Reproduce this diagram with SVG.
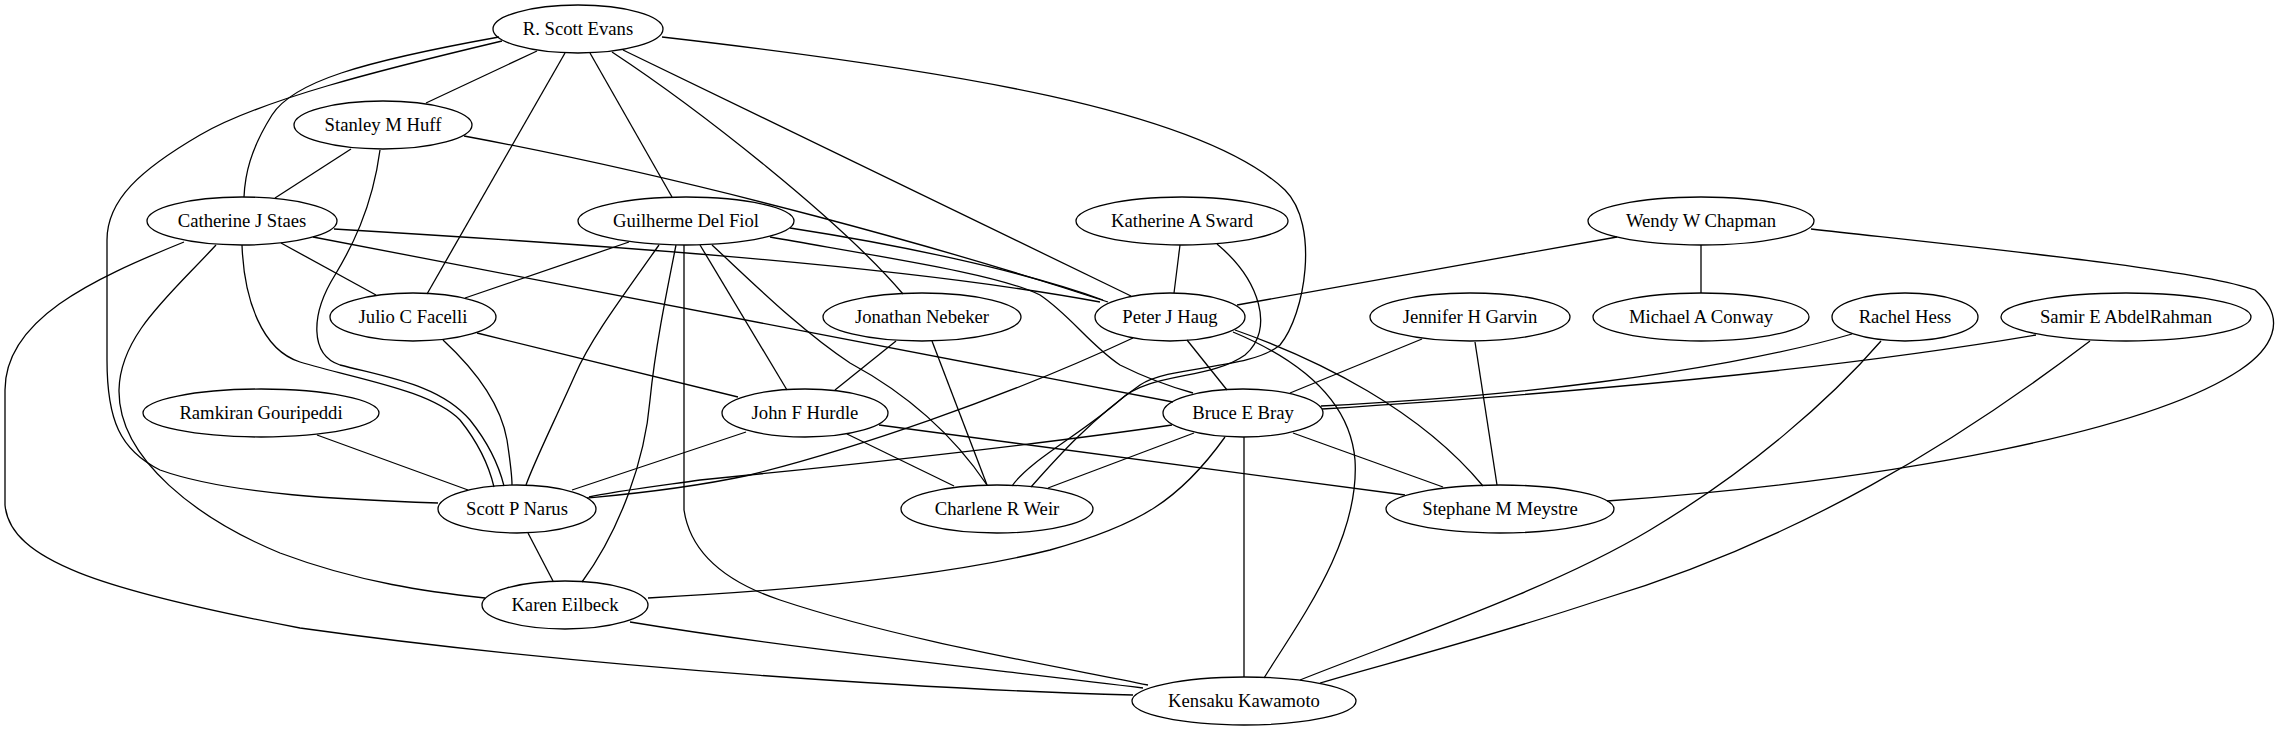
<svg xmlns="http://www.w3.org/2000/svg" width="2280" height="731" viewBox="0 0 2280 731">
<style>
.n ellipse{fill:none;stroke:#000;stroke-width:1.3}
.n text{font-family:"Liberation Serif","Times New Roman",serif;font-size:18.67px;text-anchor:middle;fill:#000}
#edges path{fill:none;stroke:#000;stroke-width:1.3}
</style>
<rect width="2280" height="731" fill="#fff"/>
<g id="edges">
<path d="M537,51 L426,103"/>
<path d="M499,37 C360,62 293,82 272,115 C250,150 245,175 244,197"/>
<path d="M502,41 C380,70 260,100 200,135 C140,170 107,200 107,240 L107,360 C107,420 120,450 160,470 C230,495 350,500 438,503"/>
<path d="M565,53 L427,294"/>
<path d="M590,53 L672,197"/>
<path d="M612,52 C700,110 840,220 903,294"/>
<path d="M623,50 L1131,296"/>
<path d="M662,37 C950,70 1200,110 1285,190 C1320,225 1305,315 1280,345 C1250,370 1170,365 1140,385 C1090,420 1055,460 1031,487"/>
<path d="M1217,244 C1260,280 1275,330 1245,355 C1210,380 1150,372 1120,400 C1080,435 1030,460 1012,486"/>
<path d="M351,149 L275,198"/>
<path d="M464,136 C700,180 950,250 1108,302"/>
<path d="M380,150 C372,210 350,250 335,275 C310,315 310,355 340,365 C390,378 440,385 470,420 C490,445 500,470 504,486"/>
<path d="M242,245 C244,300 262,350 300,362 C360,380 430,390 460,420 C480,445 490,470 494,487"/>
<path d="M443,340 C470,365 500,400 507,440 C510,460 512,475 512,485"/>
<path d="M281,243 L376,295"/>
<path d="M334,229 C600,245 900,265 1100,302"/>
<path d="M313,237 L1173,402"/>
<path d="M216,245 C170,295 120,335 119,390 C118,460 200,520 280,553 C360,583 430,592 485,598"/>
<path d="M184,242 C90,280 5,320 5,390 L5,505 C10,560 100,590 300,628 C600,670 950,690 1133,695"/>
<path d="M629,242 L465,298"/>
<path d="M790,228 C900,245 1020,270 1103,300"/>
<path d="M770,237 C900,260 1000,275 1040,295 C1070,315 1090,345 1120,365 C1150,380 1175,388 1193,393"/>
<path d="M659,245 C620,300 590,340 575,375 C555,420 535,460 526,485"/>
<path d="M676,245 C665,300 655,350 650,400 C645,460 620,530 582,582"/>
<path d="M684,245 L684,510 C690,550 720,580 780,600 C900,640 1050,665 1148,685"/>
<path d="M700,245 L787,390"/>
<path d="M712,245 C750,280 800,330 850,363 C900,390 950,430 987,485"/>
<path d="M1180,245 L1174,293"/>
<path d="M1617,237 L1237,305"/>
<path d="M1701,245 L1701,293"/>
<path d="M1811,229 C2000,250 2200,270 2255,290 C2290,320 2270,350 2240,370 C2150,430 1900,480 1607,501"/>
<path d="M477,333 L738,397"/>
<path d="M896,341 L835,390"/>
<path d="M932,341 L987,485"/>
<path d="M1187,340 L1227,390"/>
<path d="M1133,338 C1000,400 850,450 750,475 C680,490 620,495 587,498"/>
<path d="M1172,425 C1000,450 800,470 700,480 C650,487 610,492 589,497"/>
<path d="M1235,330 C1320,360 1420,410 1483,486"/>
<path d="M1233,332 C1300,360 1350,400 1355,460 C1360,540 1300,620 1264,678"/>
<path d="M1422,339 L1290,393"/>
<path d="M1475,342 L1497,485"/>
<path d="M1852,334 C1780,355 1680,372 1600,382 C1500,395 1400,402 1321,406"/>
<path d="M2036,335 C1900,358 1750,375 1600,388 C1500,397 1400,404 1322,409"/>
<path d="M1881,341 C1830,400 1750,470 1650,530 C1550,590 1400,640 1300,680"/>
<path d="M2090,341 C1960,440 1800,540 1600,600 C1480,640 1380,665 1320,683"/>
<path d="M317,435 L468,490"/>
<path d="M746,432 L572,490"/>
<path d="M847,434 L954,486"/>
<path d="M879,425 L1405,495"/>
<path d="M1194,433 L1048,488"/>
<path d="M1293,433 L1443,487"/>
<path d="M1225,437 C1180,500 1140,525 1050,550 C950,575 800,590 648,598"/>
<path d="M1244,437 L1244,677"/>
<path d="M528,533 L553,581"/>
<path d="M630,622 C800,650 1000,670 1143,688"/>
</g>
<g id="n_evans" class="n"><ellipse cx="578" cy="29" rx="85" ry="24"/><text x="578" y="35">R. Scott Evans</text></g>
<g id="n_huff" class="n"><ellipse cx="383" cy="125" rx="89" ry="24"/><text x="383" y="131">Stanley M Huff</text></g>
<g id="n_staes" class="n"><ellipse cx="242" cy="221" rx="95" ry="24"/><text x="242" y="227">Catherine J Staes</text></g>
<g id="n_delfiol" class="n"><ellipse cx="686" cy="221" rx="108" ry="24"/><text x="686" y="227">Guilherme Del Fiol</text></g>
<g id="n_sward" class="n"><ellipse cx="1182" cy="221" rx="106" ry="24"/><text x="1182" y="227">Katherine A Sward</text></g>
<g id="n_chapman" class="n"><ellipse cx="1701" cy="221" rx="113" ry="24"/><text x="1701" y="227">Wendy W Chapman</text></g>
<g id="n_facelli" class="n"><ellipse cx="413" cy="317" rx="83" ry="24"/><text x="413" y="323">Julio C Facelli</text></g>
<g id="n_nebeker" class="n"><ellipse cx="922" cy="317" rx="99" ry="24"/><text x="922" y="323">Jonathan Nebeker</text></g>
<g id="n_haug" class="n"><ellipse cx="1170" cy="317" rx="75" ry="24"/><text x="1170" y="323">Peter J Haug</text></g>
<g id="n_garvin" class="n"><ellipse cx="1470" cy="317" rx="100" ry="24"/><text x="1470" y="323">Jennifer H Garvin</text></g>
<g id="n_conway" class="n"><ellipse cx="1701" cy="317" rx="108" ry="24"/><text x="1701" y="323">Michael A Conway</text></g>
<g id="n_hess" class="n"><ellipse cx="1905" cy="317" rx="73" ry="24"/><text x="1905" y="323">Rachel Hess</text></g>
<g id="n_abdelrahman" class="n"><ellipse cx="2126" cy="317" rx="125" ry="24"/><text x="2126" y="323">Samir E AbdelRahman</text></g>
<g id="n_gouripeddi" class="n"><ellipse cx="261" cy="413" rx="118" ry="24"/><text x="261" y="419">Ramkiran Gouripeddi</text></g>
<g id="n_hurdle" class="n"><ellipse cx="805" cy="413" rx="83" ry="24"/><text x="805" y="419">John F Hurdle</text></g>
<g id="n_bray" class="n"><ellipse cx="1243" cy="413" rx="80" ry="24"/><text x="1243" y="419">Bruce E Bray</text></g>
<g id="n_narus" class="n"><ellipse cx="517" cy="509" rx="79" ry="24"/><text x="517" y="515">Scott P Narus</text></g>
<g id="n_weir" class="n"><ellipse cx="997" cy="509" rx="96" ry="24"/><text x="997" y="515">Charlene R Weir</text></g>
<g id="n_meystre" class="n"><ellipse cx="1500" cy="509" rx="114" ry="24"/><text x="1500" y="515">Stephane M Meystre</text></g>
<g id="n_eilbeck" class="n"><ellipse cx="565" cy="605" rx="83" ry="24"/><text x="565" y="611">Karen Eilbeck</text></g>
<g id="n_kawamoto" class="n"><ellipse cx="1244" cy="701" rx="112" ry="24"/><text x="1244" y="707">Kensaku Kawamoto</text></g>
</svg>
